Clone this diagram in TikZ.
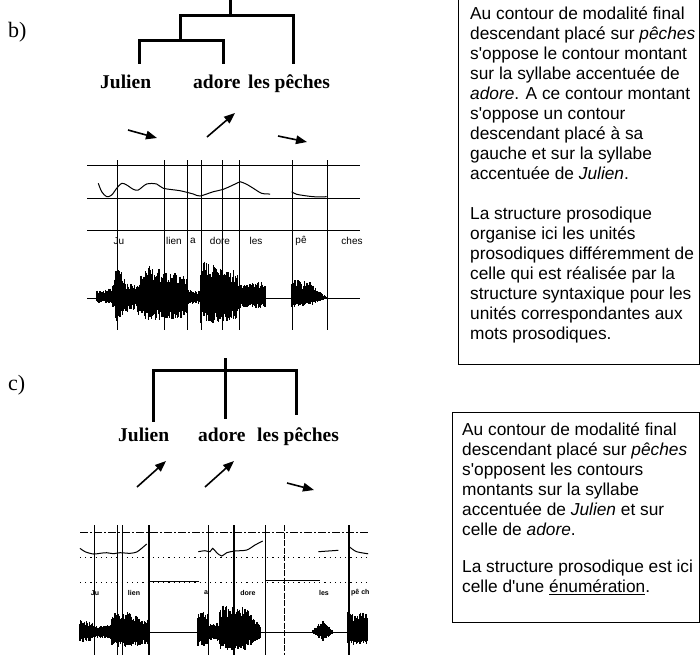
\documentclass[tikz,border=0pt]{standalone}
\usepackage{fontspec}
\setmainfont{Liberation Serif}
\newfontfamily\arialf{Liberation Sans}
\usetikzlibrary{arrows.meta}
\tikzset{
 tree/.style={line width=3pt, line cap=rect},
 arr/.style={line width=1.6pt, -{Triangle[length=11pt,width=8.5pt]}},
 word/.style={font=\fontsize{19.5}{20}\selectfont\bfseries, inner sep=0, anchor=base west},
 lab/.style={font=\fontsize{22}{22}\selectfont, inner sep=0, anchor=base west},
 para/.style={font=\arialf\fontsize{17.3}{20}\selectfont, align=left, inner sep=0, anchor=north west},
 thinl/.style={line width=0.8pt},
 thickl/.style={line width=2pt},
 segb/.style={font=\arialf\fontsize{10}{10}\selectfont, inner sep=0},
 segc/.style={font=\arialf\bfseries\fontsize{7}{7}\selectfont, inner sep=0},
 wstroke/.style={line width=1.2pt},
 boxl/.style={line width=1pt}
}
\begin{document}
\begin{tikzpicture}[x=1pt,y=-1pt]
\useasboundingbox (0,0) rectangle (700,654);
\pgfmathsetseed{7}
% ---------------- b) ----------------
\node[lab] (blab) at (8,37) {b)};
\node[word] (bJulien) at (100,88) {Julien};
\node[word] (bAdore) at (193,88) {adore};
\node[word] (bLes) at (248,88) {les pêches};
\coordinate (bJt) at (139,62);
\coordinate (bAt) at (223,62);
\coordinate (bPt) at (293,62);
\draw[tree] (bJt) -- (139,40) -- (223,40) -- (bAt);
\draw[tree] (180,40) -- (180,15) -- (293,15) -- (bPt);
\draw[tree] (230,15) -- (230,1);
\draw[arr] (128,130) -- (157,138);
\draw[arr] (207,137) -- (235,113);
\draw[arr] (278,136) -- (307,142);
% spectrogram b
\draw[thinl] (87,165) -- (360,165);
\draw[thinl] (87,198) -- (360,198);
\draw[thinl] (87,230) -- (360,230);
\foreach \vx in {117,164,187,201,222,239,292,327}
  \draw[thinl] (\vx,160) -- (\vx,330);
\draw[line width=1pt] plot[smooth] coordinates {(98.3,183.3) (101.7,191.7) (106.7,196.7) (111.7,195) (116.7,188.3) (121.7,183.3) (126.7,185) (133.3,189.3) (138.3,190) (146.7,184) (156.7,184) (163.3,188.3) (180,190.7) (193.3,194) (200,196) (213.3,191.7) (223.3,189.3) (236.7,183.3) (240,181.7) (246.7,184.3) (253.3,188.3) (261.7,193.3) (270,194)};
\draw[line width=1pt] plot[smooth] coordinates {(291.7,191.7) (296.7,194.3) (313.3,196.7) (326.7,196.7)};
\node[segb] (bs1) at (119,241) {Ju};
\node[segb] (bs2) at (174,241) {lien};
\node[segb] (bs3) at (193,241) {a};
\node[segb] (bs4) at (220,241) {dore};
\node[segb] (bs5) at (256,241) {les};
\node[segb] (bs6) at (301,241) {pê};
\node[segb] (bs7) at (352,241) {ches};
\draw[thinl] (87,298) -- (360,298);
\foreach \xa/\ua/\da/\xb/\ub/\db in {97/8/5/113/10/6, 113/14/10/117/36/24, 117/36/24/125/20/14, 125/16/14/138/16/12, 138/20/18/150/35/24, 150/35/24/163/28/22, 163/28/22/187/22/20, 187/8/6/201/8/6, 201/38/26/215/34/25, 215/34/25/238/28/22, 238/18/12/266/16/10, 292/20/10/310/16/8, 310/16/8/327/1/1}{
  \pgfmathsetmacro\xs{\xa+0.75}
  \foreach \x in {\xa,\xs,...,\xb}{
    \pgfmathsetmacro\f{(\x-\xa)/(\xb-\xa)}
    \pgfmathsetmacro\u{(\ua+(\ub-\ua)*\f)*(0.5+0.5*rnd)}
    \pgfmathsetmacro\d{(\da+(\db-\da)*\f)*(0.5+0.5*rnd)}
    \draw[wstroke] (\x,298-\u) -- (\x,298+\d);
  }
}
% text box b
\draw[boxl] (458,-2) -- (458,364) -- (699,364) -- (699,-2);
\node[para] (btext) at (470,7) {Au contour de modalité final\\
descendant placé sur \textit{pêches}\\
s'oppose le contour montant\\
sur la syllabe accentuée de\\
\textit{adore}. A ce contour montant\\
s'oppose un contour\\
descendant placé à sa\\
gauche et sur la syllabe\\
accentuée de \textit{Julien}.\\[20pt]
La structure prosodique\\
organise ici les unités\\
prosodiques différemment de\\
celle qui est réalisée par la\\
structure syntaxique pour les\\
unités correspondantes aux\\
mots prosodiques.};
% ---------------- c) ----------------
\node[lab] (clab) at (8,390) {c)};
\node[word] (cJulien) at (118,441) {Julien};
\node[word] (cAdore) at (198,441) {adore};
\node[word] (cLes) at (257,441) {les pêches};
\coordinate (cJt) at (153,420);
\coordinate (cAt) at (225,417);
\coordinate (cPt) at (296,413);
\draw[tree] (cJt) -- (153,370) -- (296,370) -- (cPt);
\draw[tree] (cAt) -- (225,359);
\draw[arr] (137,487) -- (166,461);
\draw[arr] (205,487) -- (234,461);
\draw[arr] (287,483) -- (314,490);
\begin{scope}
\clip (78,515) rectangle (368,656);
\draw[thinl, dash pattern=on 8pt off 2pt on 2pt off 2pt] (80,532) -- (368,532);
\draw[thinl, dash pattern=on 1.2pt off 4pt] (80,557) -- (368,557);
\draw[thinl, dash pattern=on 1.2pt off 4pt] (80,582) -- (368,582);
\draw[thinl] (150,581) -- (199,581);
\draw[thinl] (265,580) -- (320,580);
\foreach \vx in {94,117.3,122.7,208.3,265}
  \draw[thinl] (\vx,525) -- (\vx,656);
\draw[thinl, dash pattern=on 6pt off 1.5pt] (284.3,525) -- (284.3,656);
\foreach \vx in {149,234,349.3}
  \draw[thickl] (\vx,525) -- (\vx,656);
\draw[line width=1pt] plot[smooth] coordinates {(80,548.3) (85,551.7) (93.3,554) (100,553.3) (106.7,552.7) (113.3,553.7) (120,552.7) (130,553.3) (136.7,552) (141.7,548.3) (146.7,544)};
\draw[line width=1pt] plot[smooth] coordinates {(198.3,551.7) (205,550.7) (210,551.7) (212.7,548.3) (216.7,552.7) (221.7,556) (226.7,552.7) (235,551) (246.7,550) (255,545) (262.7,541)};
\draw[line width=1pt] (318.3,551.7) -- (338.3,550.3);
\draw[line width=1pt] plot[smooth] coordinates {(349.3,546.7) (356.7,551.7) (370,554)};
\node[segc] (cs1) at (95,593) {Ju};
\node[segc] (cs2) at (134,593) {lien};
\node[segc] (cs3) at (206,593) {a};
\node[segc] (cs4) at (248,593) {dore};
\node[segc] (cs5) at (324,593) {les};
\node[segc, anchor=west] (cs6) at (351,593) {pê ches};
\draw[thinl] (80,632) -- (368,632);
\foreach \xa/\ua/\da/\xb/\ub/\db in {80/12/11/93/10/9, 93/6/6/112/8/7, 112/19/15/130/20/15, 130/20/15/148/12/12, 198/22/15/208/20/15, 208/8/8/220/10/10, 220/27/18/245/25/18, 245/25/18/260/8/8, 313/2/2/323/13/9, 323/13/9/332/2/2, 348/20/13/368/20/13}{
  \pgfmathsetmacro\xs{\xa+0.75}
  \foreach \x in {\xa,\xs,...,\xb}{
    \pgfmathsetmacro\f{(\x-\xa)/(\xb-\xa)}
    \pgfmathsetmacro\u{(\ua+(\ub-\ua)*\f)*(0.55+0.45*rnd)}
    \pgfmathsetmacro\d{(\da+(\db-\da)*\f)*(0.55+0.45*rnd)}
    \draw[wstroke] (\x,632-\u) -- (\x,632+\d);
  }
}
\end{scope}
% text box c
\draw[boxl] (452,412) rectangle (699,622);
\node[para] (ctext) at (462,423) {Au contour de modalité final\\
descendant placé sur \textit{pêches}\\
s'opposent les contours\\
montants sur la syllabe\\
accentuée de \textit{Julien} et sur\\
celle de \textit{adore}.\\[17pt]
La structure prosodique est ici\\
celle d'une \underline{énumération}.};
\end{tikzpicture}
\end{document}
